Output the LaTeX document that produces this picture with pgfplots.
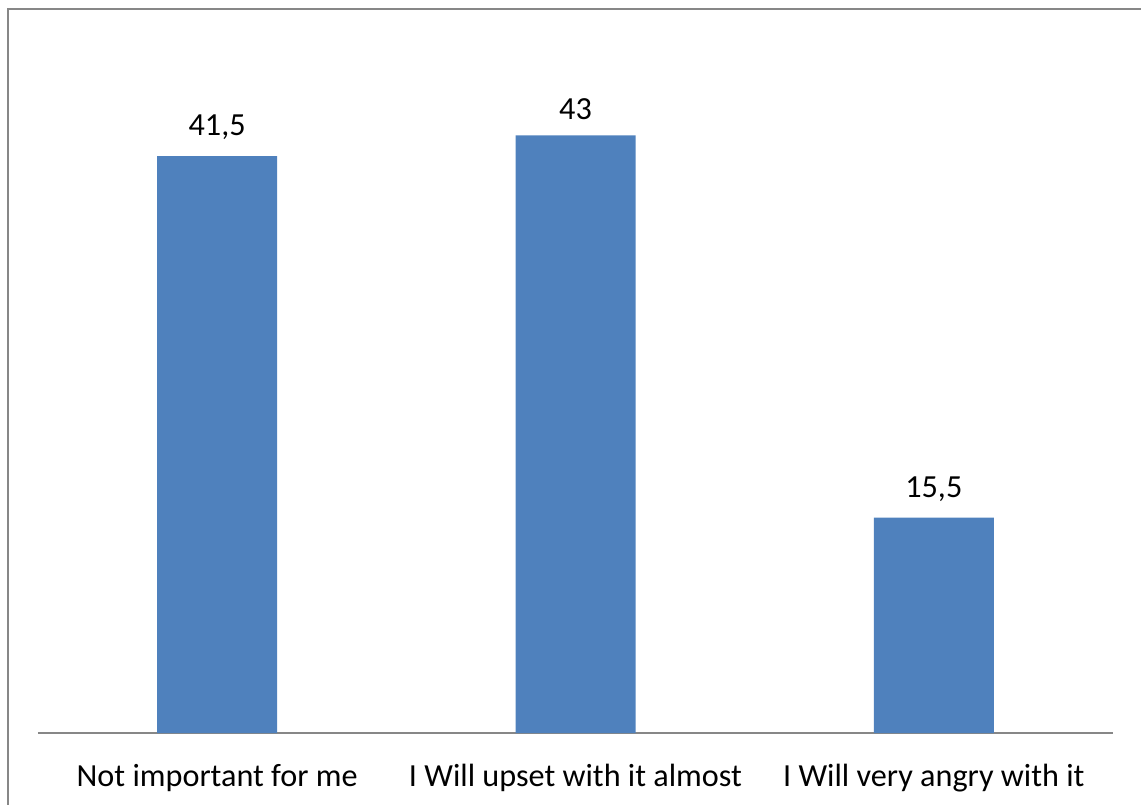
\documentclass[border=0pt]{standalone}
\usepackage{pgfplots}
\pgfplotsset{compat=1.18}
\usepackage{fontspec}
\setmainfont{Carlito}
\definecolor{barblue}{HTML}{4F81BD}
\definecolor{axgray}{HTML}{878787}
\begin{document}
\begin{tikzpicture}
\begin{axis}[
  at={(0,0)}, anchor=south west,
  scale only axis, width=537.5pt, height=347.5pt,
  xmin=-0.5, xmax=2.5, ymin=0, ymax=50,
  axis y line=none, axis x line*=bottom,
  x axis line style={axgray, line width=0.8pt, -},
  xtick={0,1,2}, xticklabels={Not important for me, I Will upset with it almost, I Will very angry with it},
  xtick style={draw=none},
  ytick=\empty,
  xticklabel style={font=\fontsize{16.1}{19}\selectfont, text=black, yshift=-8pt},
  ybar, bar width=60pt,
  /pgf/number format/assume math mode=true,
  nodes near coords={\pgfmathprintnumber[use comma]{\pgfplotspointmeta}},
  every node near coord/.append style={font=\fontsize{16.1}{19}\selectfont, text=black, yshift=4.5pt},
]
\addplot[fill=barblue, draw=none] coordinates {(0,41.5) (1,43) (2,15.5)};
\end{axis}
\pgfresetboundingbox
\useasboundingbox (-19pt,-35.5pt) rectangle (551.5pt,366.5pt);
\begin{scope}
\clip (-19pt,-35.5pt) rectangle (551.5pt,366.5pt);
\draw[axgray, line width=1pt] (-15pt,-80pt) rectangle (600pt,362pt);
\end{scope}
\end{tikzpicture}
\end{document}
